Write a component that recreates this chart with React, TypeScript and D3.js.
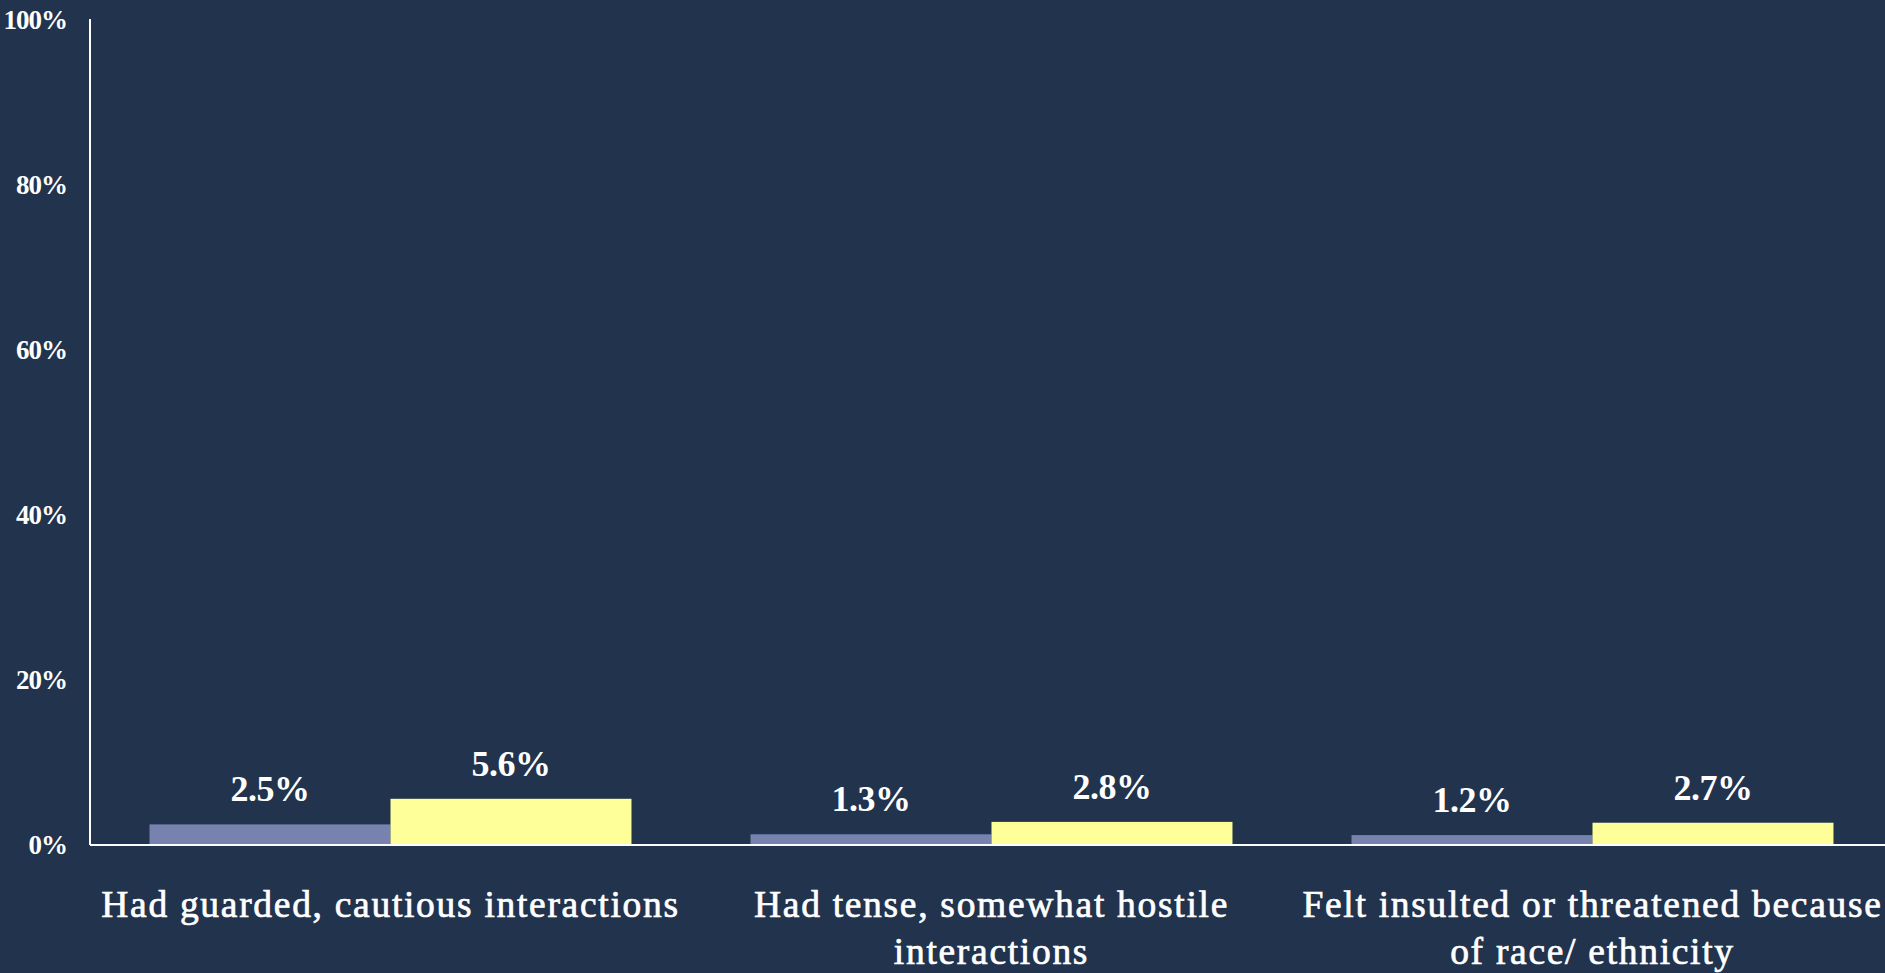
import React, { useEffect } from "react";
import * as d3 from "d3";

const categories: string[][] = [
  ["Had guarded, cautious interactions"],
  ["Had tense, somewhat hostile", "interactions"],
  ["Felt insulted or threatened because", "of race/ ethnicity"],
];
const seriesNames = ["Series A", "Series B"];
const seriesA = [2.5, 1.3, 1.2];
const seriesB = [5.6, 2.8, 2.7];
const yTicks = [0, 20, 40, 60, 80, 100];

const W = 1885;
const H = 973;
const BG = "#22334E";
const COLORS = ["#7782AE", "#FFFF99"];
const FONT = "'Liberation Serif', 'Times New Roman', serif";

export default function App() {
  useEffect(() => {
    document.body.style.margin = "0";
    document.body.style.background = BG;
  }, []);

  const left = 90;
  const right = 1893;
  const top = 20;
  const bottom = 845;

  const x0 = d3
    .scaleBand<number>()
    .domain(categories.map((_, i) => i))
    .range([left, right])
    .padding(0);
  const x1 = d3
    .scaleBand<string>()
    .domain(seriesNames)
    .range([0, x0.bandwidth()])
    .paddingInner(0)
    .paddingOuter(0.247);
  const y = d3.scaleLinear().domain([0, 100]).range([bottom, top]);

  const data = [seriesA, seriesB];

  return (
    <svg
      width={W}
      height={H}
      style={{ display: "block", position: "absolute", left: 0, top: 0, background: BG }}
    >
      <rect x={0} y={0} width={W} height={H} fill={BG} />
      {yTicks.map((t) => (
        <text
          key={t}
          x={67}
          y={y(t)}
          dy="0.35em"
          textAnchor="end"
          fill="#fff"
          fontFamily={FONT}
          fontWeight="bold"
          fontSize={27}
          letterSpacing={-1}
        >
          {t}%
        </text>
      ))}
      {categories.map((cat, ci) => (
        <g key={ci}>
          {data.map((vals, si) => {
            const bx = (x0(ci) as number) + (x1(seriesNames[si]) as number);
            const bw = x1.bandwidth();
            const v = vals[ci];
            return (
              <g key={si}>
                <rect x={bx} y={y(v)} width={bw} height={y(0) - y(v)} fill={COLORS[si]} />
                <text
                  x={bx + bw / 2}
                  y={y(v) - 23}
                  textAnchor="middle"
                  fill="#fff"
                  fontFamily={FONT}
                  fontWeight="bold"
                  fontSize={36}
                  letterSpacing={-0.5}
                >
                  {v.toFixed(1)}%
                </text>
              </g>
            );
          })}
          {cat.map((line, li) => (
            <text
              key={li}
              x={(x0(ci) as number) + x0.bandwidth() / 2}
              y={917 + li * 47}
              textAnchor="middle"
              fill="#fff"
              stroke="#fff"
              strokeWidth={0.7}
              fontFamily={FONT}
              fontSize={37.5}
              letterSpacing={1.7}
            >
              {line}
            </text>
          ))}
        </g>
      ))}
      <line x1={left} x2={W} y1={bottom} y2={bottom} stroke="#fff" strokeWidth={2} />
      <line x1={left} x2={left} y1={top - 1} y2={bottom} stroke="#fff" strokeWidth={2} />
    </svg>
  );
}
